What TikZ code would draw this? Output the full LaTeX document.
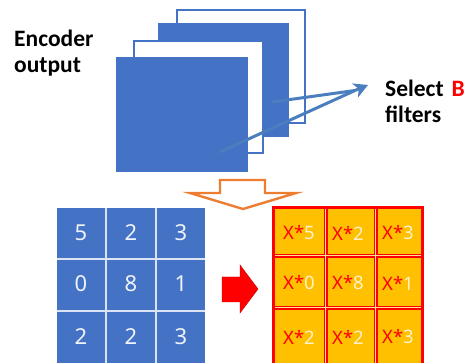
\documentclass[tikz,border=0pt]{standalone}
\usepackage{fontspec}
\setmainfont{Carlito}
\newfontfamily\digitfont{Noto Sans}
\usetikzlibrary{arrows.meta}
\definecolor{oblue}{HTML}{4472C4}
\definecolor{lblue}{HTML}{4A7EBF}
\definecolor{oorange}{HTML}{ED7D31}
\definecolor{ogold}{HTML}{FFC000}
\definecolor{pale}{HTML}{FFF2CC}
\definecolor{ored}{HTML}{FF0000}
\tikzset{
  whitesq/.style={draw=oblue, line width=2.2pt, fill=white},
  bluesq/.style={draw=oblue, line width=1pt, fill=oblue},
  lbl/.style={font=\fontsize{23.5}{26}\selectfont\bfseries, align=left, inner sep=0pt, anchor=base west},
  bnum/.style={font=\digitfont\fontsize{22}{22}\selectfont, text=white!92!oblue, inner sep=0pt},
  xnum/.style={font=\digitfont\fontsize{18.5}{18.5}\selectfont, inner sep=0pt},
  selarrow/.style={draw=lblue, line width=3pt},
}
\newcommand{\xcell}[1]{\textcolor{ored}{X*}\textcolor{pale}{#1}}
\begin{document}
\begin{tikzpicture}[x=1pt,y=-1pt]
\useasboundingbox (0,0) rectangle (469,363);
% stacked maps
\draw[whitesq] (177,10) rectangle (305,123);
\draw[bluesq] (158,24) rectangle (288,137);
\draw[whitesq] (134,41) rectangle (263,153);
\draw[bluesq] (116,58) rectangle (247,172);
% labels
\node[lbl] (enc) at (14,47) {Encoder};
\node[lbl] (out) at (14,73) {output};
\node[lbl] (sel) at (385,97) {Select\hspace{8pt}\textcolor{ored}{B}};
\node[lbl] (fil) at (385,123) {filters};
% select arrows
\coordinate (tip) at (368,85);
\coordinate (s1) at (272,102);
\coordinate (s2) at (220,152);
\coordinate (hb) at (355,90.5);
\draw[selarrow] (s1) -- (hb);
\draw[selarrow] (s2) -- (hb);
\draw[selarrow, -{Stealth[length=14pt,width=15pt,inset=4pt]}, line cap=butt] (hb) -- (tip);
% hollow orange arrow
\draw[draw=oorange, line width=2.4pt, fill=white, line join=miter]
  (220,180) coordinate (da1) -- (265,180) -- (265,193) -- (296,193) -- (243,209) coordinate (dtip) -- (190,193) -- (220,193) -- cycle;
% blue grid
\fill[oblue] (57,208) rectangle (205,366);
\draw[white!80!oblue, line width=1.2pt] (106,208) -- (106,366) (156,208) -- (156,366)
  (57,259) -- (205,259) (57,311) -- (205,311);
\node[bnum] (b11) at (81,233) {5};
\node[bnum] (b12) at (131,233) {2};
\node[bnum] (b13) at (181,233) {3};
\node[bnum] (b21) at (81,284) {0};
\node[bnum] (b22) at (131,284) {8};
\node[bnum] (b23) at (181,284) {1};
\node[bnum] (b31) at (81,337) {2};
\node[bnum] (b32) at (131,337) {2};
\node[bnum] (b33) at (181,337) {3};
% red arrow
\fill[ored, draw=red!75!black, line width=0.4pt] (222,277) -- (240,277) -- (240,265) -- (258,289) -- (240,313) -- (240,302) -- (222,302) -- cycle;
% orange grid
\fill[ogold] (273,208) rectangle (422,366);
\draw[ored, line width=4.5pt] (326,208) -- (326,366) (376,208) -- (376,366)
  (273,256) -- (422,256) (273,308) -- (422,308);
\draw[pale!70!ogold, line width=0.6pt] (325,208) -- (325,366) (375,208) -- (375,366)
  (273,255) -- (422,255) (273,307) -- (422,307);
\draw[ored, line width=3pt] (273,208) rectangle (422,366);
\node[xnum] (o11) at (299,233) {\xcell{5}};
\node[xnum] (o12) at (348,233) {\xcell{2}};
\node[xnum] (o13) at (398,233) {\xcell{3}};
\node[xnum] (o21) at (299,283) {\xcell{0}};
\node[xnum] (o22) at (348,283) {\xcell{8}};
\node[xnum] (o23) at (398,283) {\xcell{1}};
\node[xnum] (o31) at (299,337) {\xcell{2}};
\node[xnum] (o32) at (348,337) {\xcell{2}};
\node[xnum] (o33) at (398,337) {\xcell{3}};
\end{tikzpicture}
\end{document}
